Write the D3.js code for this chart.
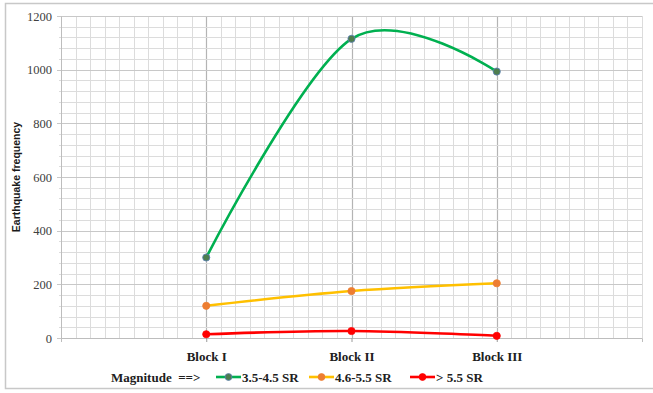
<!DOCTYPE html>
<html>
<head>
<meta charset="utf-8">
<script src="https://cdn.jsdelivr.net/npm/d3@7"></script>
<style>
  html, body { margin: 0; padding: 0; background: #fff; }
  svg { display: block; }
</style>
</head>
<body>
<svg id="chart" width="653" height="393"></svg>
<script>
// Earthquake frequency per block, by magnitude class
const blocks = ["Block I", "Block II", "Block III"];
const seriesNames = ["3.5-4.5 SR", "4.6-5.5 SR", "> 5.5 SR"];
const lowMagnitude = [300, 1115, 993];
const midMagnitude = [120, 175, 204];
const highMagnitude = [14, 26, 8];
const yTicks = [0, 200, 400, 600, 800, 1000, 1200];

const lineColors = ["#00B050", "#FFC000", "#FF0000"];
const markerColors = ["#4E7D4E", "#ED7D31", "#FF0000"];
const markerStrokes = ["#5B7FB8", "#ED7D31", "#FF0000"];

const series = [lowMagnitude, midMagnitude, highMagnitude].map((vals, i) => ({
  name: seriesNames[i],
  values: vals.map((v, j) => ({ block: blocks[j], value: v })),
  line: lineColors[i],
  marker: markerColors[i],
  markerStroke: markerStrokes[i]
}));

const svg = d3.select("#chart");
const plot = { left: 61, right: 642, top: 16, bottom: 338 };
const serif = "'Liberation Serif', 'Times New Roman', serif";

// Outer chart frame
svg.append("rect")
  .attr("x", 5.5).attr("y", 3.5)
  .attr("width", 660).attr("height", 385)
  .attr("fill", "#fff").attr("stroke", "#c8c8c8").attr("stroke-width", 1.5);

// Category positions sit at 1,2,3 on a 0..4 span
const x = d3.scaleLinear().domain([0, 4]).range([plot.left, plot.right]);
const xOf = b => x(blocks.indexOf(b) + 1);
const y = d3.scaleLinear().domain([0, 1200]).range([plot.bottom, plot.top]);

const grid = svg.append("g");
// vertical grid, ten divisions per category
d3.range(0, 40.001, 1).forEach(k => {
  const xv = x(k / 10);
  const isCat = k % 10 === 0 && k > 0 && k < 40;
  grid.append("line")
    .attr("x1", Math.round(xv) + 0.5).attr("x2", Math.round(xv) + 0.5)
    .attr("y1", plot.top).attr("y2", plot.bottom)
    .attr("stroke", isCat ? "#b4b4b4" : "#dcdcdc")
    .attr("stroke-width", isCat ? 1.2 : 1);
});
// horizontal grid, minor every 40, major every 200
d3.range(0, 1200.001, 40).forEach(v => {
  const major = v % 200 === 0;
  grid.append("line")
    .attr("x1", major ? plot.left - 4 : plot.left - 2).attr("x2", plot.right)
    .attr("y1", Math.round(y(v)) + 0.5).attr("y2", Math.round(y(v)) + 0.5)
    .attr("stroke", major ? "#c8c8c8" : "#dcdcdc")
    .attr("stroke-width", 1);
});

// axes
const yAxis = svg.append("g")
  .attr("transform", `translate(${plot.left},0)`)
  .call(d3.axisLeft(y).tickValues(yTicks).tickSize(0).tickPadding(9)
    .tickFormat(d3.format("d")));
yAxis.select(".domain").attr("stroke", "#bdbdbd");
yAxis.selectAll("text")
  .style("font-family", serif)
  .style("font-size", "12.5px").attr("fill", "#404040");

const xAxis = svg.append("g")
  .attr("transform", `translate(0,${plot.bottom})`)
  .call(d3.axisBottom(x).tickValues([1, 2, 3]).tickSize(4)
    .tickFormat(d => blocks[d - 1]).tickPadding(10));
xAxis.select(".domain").attr("stroke", "#bdbdbd");
xAxis.selectAll(".tick line").attr("stroke", "#9a9a9a");
xAxis.selectAll("text")
  .style("font-family", serif)
  .style("font-weight", "bold").style("font-size", "13px").attr("fill", "#202020");

// y-axis title
svg.append("text")
  .attr("transform", `translate(20,${(plot.top + plot.bottom) / 2}) rotate(-90)`)
  .attr("text-anchor", "middle")
  .style("font-family", "'Liberation Sans', Arial, sans-serif")
  .style("font-weight", "bold").style("font-size", "10.5px").attr("fill", "#1a1a1a")
  .text("Earthquake frequency");

// smoothed series lines
const line = d3.line()
  .x(d => xOf(d.block))
  .y(d => y(d.value))
  .curve(d3.curveCardinal.tension(0));

const sg = svg.selectAll(".series").data(series).join("g").attr("class", "series");
sg.append("path")
  .attr("d", d => line(d.values))
  .attr("fill", "none")
  .attr("stroke", d => d.line)
  .attr("stroke-width", 2.6)
  .attr("stroke-linecap", "round");
sg.selectAll("circle").data(d => d.values.map(v => ({ ...v, s: d }))).join("circle")
  .attr("cx", d => xOf(d.block))
  .attr("cy", d => y(d.value))
  .attr("r", 3.6)
  .attr("fill", d => d.s.marker)
  .attr("stroke", d => d.s.markerStroke)
  .attr("stroke-width", 0.8);

// legend
const legend = svg.append("g").attr("transform", "translate(0,377)");
legend.append("text")
  .attr("x", 111).attr("y", 4.5)
  .attr("xml:space", "preserve")
  .style("font-family", serif)
  .style("font-weight", "bold").style("font-size", "13px").attr("fill", "#202020")
  .text("Magnitude  ==>");
const legendX = [216, 309, 410];
series.forEach((s, i) => {
  const g = legend.append("g").attr("transform", `translate(${legendX[i]},0)`);
  g.append("line").attr("x1", 0).attr("x2", 25).attr("y1", 0).attr("y2", 0)
    .attr("stroke", s.line).attr("stroke-width", 2.6);
  g.append("circle").attr("cx", 12.5).attr("cy", 0).attr("r", 3.4)
    .attr("fill", s.marker).attr("stroke", s.markerStroke).attr("stroke-width", 0.8);
  g.append("text").attr("x", 26).attr("y", 4.5)
    .style("font-family", serif)
    .style("font-weight", "bold").style("font-size", "13px").attr("fill", "#202020")
    .text(s.name);
});
</script>
</body>
</html>
